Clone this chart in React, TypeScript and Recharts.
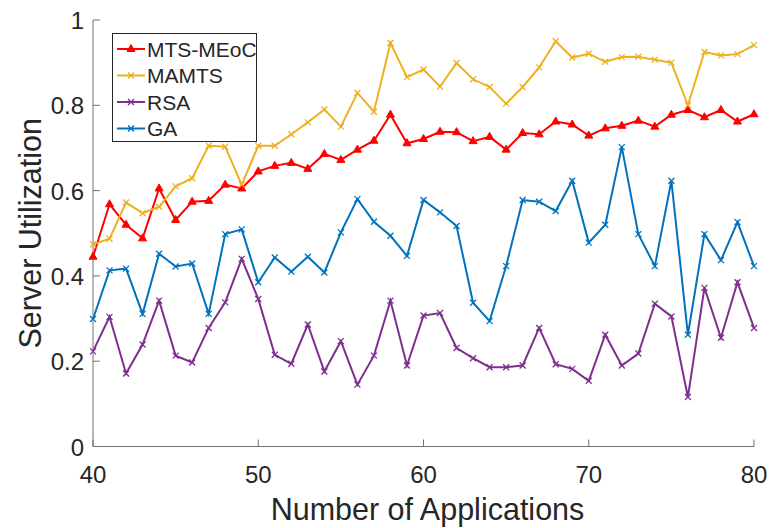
import { LineChart, Line, XAxis, YAxis } from "recharts";

const apps = [40, 41, 42, 43, 44, 45, 46, 47, 48, 49, 50, 51, 52, 53, 54, 55, 56, 57, 58, 59, 60, 61, 62, 63, 64, 65, 66, 67, 68, 69, 70, 71, 72, 73, 74, 75, 76, 77, 78, 79, 80];
const mtsMeoc = [0.445, 0.568, 0.52, 0.488, 0.605, 0.531, 0.574, 0.576, 0.614, 0.605, 0.645, 0.658, 0.665, 0.651, 0.686, 0.672, 0.696, 0.717, 0.778, 0.711, 0.721, 0.738, 0.737, 0.716, 0.726, 0.696, 0.735, 0.732, 0.762, 0.755, 0.729, 0.746, 0.752, 0.764, 0.75, 0.778, 0.789, 0.772, 0.789, 0.762, 0.779];
const mamts = [0.474, 0.487, 0.572, 0.547, 0.562, 0.61, 0.629, 0.705, 0.703, 0.614, 0.705, 0.705, 0.732, 0.76, 0.79, 0.75, 0.829, 0.785, 0.946, 0.866, 0.884, 0.844, 0.899, 0.861, 0.843, 0.804, 0.843, 0.889, 0.95, 0.912, 0.921, 0.902, 0.913, 0.914, 0.907, 0.9, 0.8, 0.925, 0.917, 0.92, 0.941];
const rsa = [0.223, 0.304, 0.171, 0.239, 0.342, 0.213, 0.197, 0.278, 0.338, 0.44, 0.346, 0.215, 0.194, 0.286, 0.176, 0.247, 0.145, 0.213, 0.342, 0.19, 0.307, 0.313, 0.231, 0.207, 0.186, 0.186, 0.19, 0.278, 0.193, 0.182, 0.154, 0.262, 0.19, 0.218, 0.335, 0.305, 0.116, 0.372, 0.255, 0.385, 0.278];
const ga = [0.299, 0.413, 0.417, 0.311, 0.452, 0.422, 0.429, 0.311, 0.498, 0.509, 0.385, 0.443, 0.41, 0.445, 0.408, 0.502, 0.58, 0.527, 0.494, 0.447, 0.578, 0.549, 0.517, 0.337, 0.294, 0.423, 0.578, 0.574, 0.552, 0.623, 0.478, 0.52, 0.702, 0.498, 0.423, 0.623, 0.262, 0.498, 0.437, 0.526, 0.423];

const xTicks = [40, 50, 60, 70, 80];
const yTicks = [0, 0.2, 0.4, 0.6, 0.8, 1];

const series = [
  { key: "mtsMeoc", name: "MTS-MEoC", color: "#ff0000", marker: "triangle" },
  { key: "mamts", name: "MAMTS", color: "#edb120", marker: "cross" },
  { key: "rsa", name: "RSA", color: "#7e2f8e", marker: "cross" },
  { key: "ga", name: "GA", color: "#0072bd", marker: "cross" },
];

const data = apps.map((n, i) => ({
  n,
  mtsMeoc: mtsMeoc[i],
  mamts: mamts[i],
  rsa: rsa[i],
  ga: ga[i],
}));

const FONT = "'Liberation Sans', Arial, Helvetica, sans-serif";
const TEXT = "#262626";
const AXIS = "#707070";
const TICK_LEN = 7;

const Marker = ({ cx, cy, color, type }: { cx: number; cy: number; color: string; type: string }) => {
  if (type === "triangle") {
    return (
      <path
        d={`M${cx},${cy - 4.5}L${cx + 4},${cy + 2.5}L${cx - 4},${cy + 2.5}Z`}
        fill={color}
        stroke={color}
        strokeWidth={1}
      />
    );
  }
  const s = 3;
  return (
    <path
      d={`M${cx - s},${cy - s}L${cx + s},${cy + s}M${cx - s},${cy + s}L${cx + s},${cy - s}`}
      stroke={color}
      strokeWidth={1.3}
      fill="none"
    />
  );
};

const makeDot = (color: string, type: string) => (p: any) => (
  <g key={`d-${p.index}`}>
    <Marker cx={p.cx} cy={p.cy} color={color} type={type} />
  </g>
);

const BottomTick = ({ x, y, payload }: any) => (
  <g>
    <line x1={x} y1={y} x2={x} y2={y - TICK_LEN} stroke={AXIS} />
    <text x={x} y={y + 36.5} textAnchor="middle" fontSize={24} fontFamily={FONT} fill={TEXT}>
      {payload.value}
    </text>
  </g>
);

const LeftTick = ({ x, y, payload }: any) => (
  <g>
    <line x1={x} y1={y} x2={x + TICK_LEN} y2={y} stroke={AXIS} />
    <text x={x - 9} y={y + 9} textAnchor="end" fontSize={24} fontFamily={FONT} fill={TEXT}>
      {payload.value}
    </text>
  </g>
);

const TopTick = ({ x, y }: any) => <line x1={x} y1={y} x2={x} y2={y + TICK_LEN} stroke={AXIS} />;
const RightTick = ({ x, y }: any) => <line x1={x} y1={y} x2={x - TICK_LEN} y2={y} stroke={AXIS} />;

const Legend = () => (
  <svg width={150} height={115} style={{ position: "absolute", left: 112, top: 33 }}>
    <rect x={0.5} y={0.5} width={144} height={108} fill="#ffffff" stroke={TEXT} strokeWidth={1} />
    {series.map((s, i) => {
      const cy = 16 + i * 26.5;
      return (
        <g key={s.key}>
          <line x1={5} y1={cy} x2={33} y2={cy} stroke={s.color} strokeWidth={2} />
          <Marker cx={19} cy={cy} color={s.color} type={s.marker} />
          <text x={35} y={cy + 7.5} fontSize={21} fontFamily={FONT} fill={TEXT}>
            {s.name}
          </text>
        </g>
      );
    })}
  </svg>
);

export default function App() {
  return (
    <div style={{ position: "absolute", left: 0, top: 0, width: 769, height: 528, background: "#fff" }}>
      <LineChart width={769} height={528} data={data} margin={{ top: 20, right: 15, bottom: 0, left: 0 }}>
        <XAxis
          xAxisId="b"
          dataKey="n"
          type="number"
          domain={[40, 80]}
          ticks={xTicks}
          height={81.5}
          tickSize={0}
          tickMargin={0}
          tickLine={false}
          tick={<BottomTick />}
          axisLine={{ stroke: AXIS }}
          interval={0}
          label={({ viewBox }: any) => (
            <text
              x={viewBox.x + viewBox.width / 2 + 4}
              y={520}
              textAnchor="middle"
              fontSize={30.5}
              fontFamily={FONT}
              fill={TEXT}
            >
              Number of Applications
            </text>
          )}
        />
        <XAxis
          xAxisId="t"
          orientation="top"
          dataKey="n"
          type="number"
          domain={[40, 80]}
          ticks={xTicks}
          height={0}
          tickSize={0}
          tickMargin={0}
          tickLine={false}
          tick={<TopTick />}
          axisLine={{ stroke: AXIS }}
          interval={0}
        />
        <YAxis
          yAxisId="l"
          type="number"
          domain={[0, 1]}
          ticks={yTicks}
          width={93}
          tickSize={0}
          tickMargin={0}
          tickLine={false}
          tick={<LeftTick />}
          axisLine={{ stroke: AXIS }}
          interval={0}
          label={({ viewBox }: any) => {
            const cy = viewBox.y + viewBox.height / 2;
            return (
              <text
                x={41}
                y={cy}
                transform={`rotate(-90, 41, ${cy})`}
                textAnchor="middle"
                fontSize={30.5}
                fontFamily={FONT}
                fill={TEXT}
              >
                Server Utilization
              </text>
            );
          }}
        />
        <YAxis
          yAxisId="r"
          orientation="right"
          type="number"
          domain={[0, 1]}
          ticks={yTicks}
          width={0}
          tickSize={0}
          tickMargin={0}
          tickLine={false}
          tick={<RightTick />}
          axisLine={{ stroke: AXIS }}
          interval={0}
        />
        {series.map((s) => (
          <Line
            key={s.key}
            xAxisId="b"
            yAxisId="l"
            dataKey={s.key}
            name={s.name}
            type="linear"
            stroke={s.color}
            strokeWidth={2}
            dot={makeDot(s.color, s.marker)}
            activeDot={false}
            isAnimationActive={false}
          />
        ))}
      </LineChart>
      <Legend />
    </div>
  );
}
